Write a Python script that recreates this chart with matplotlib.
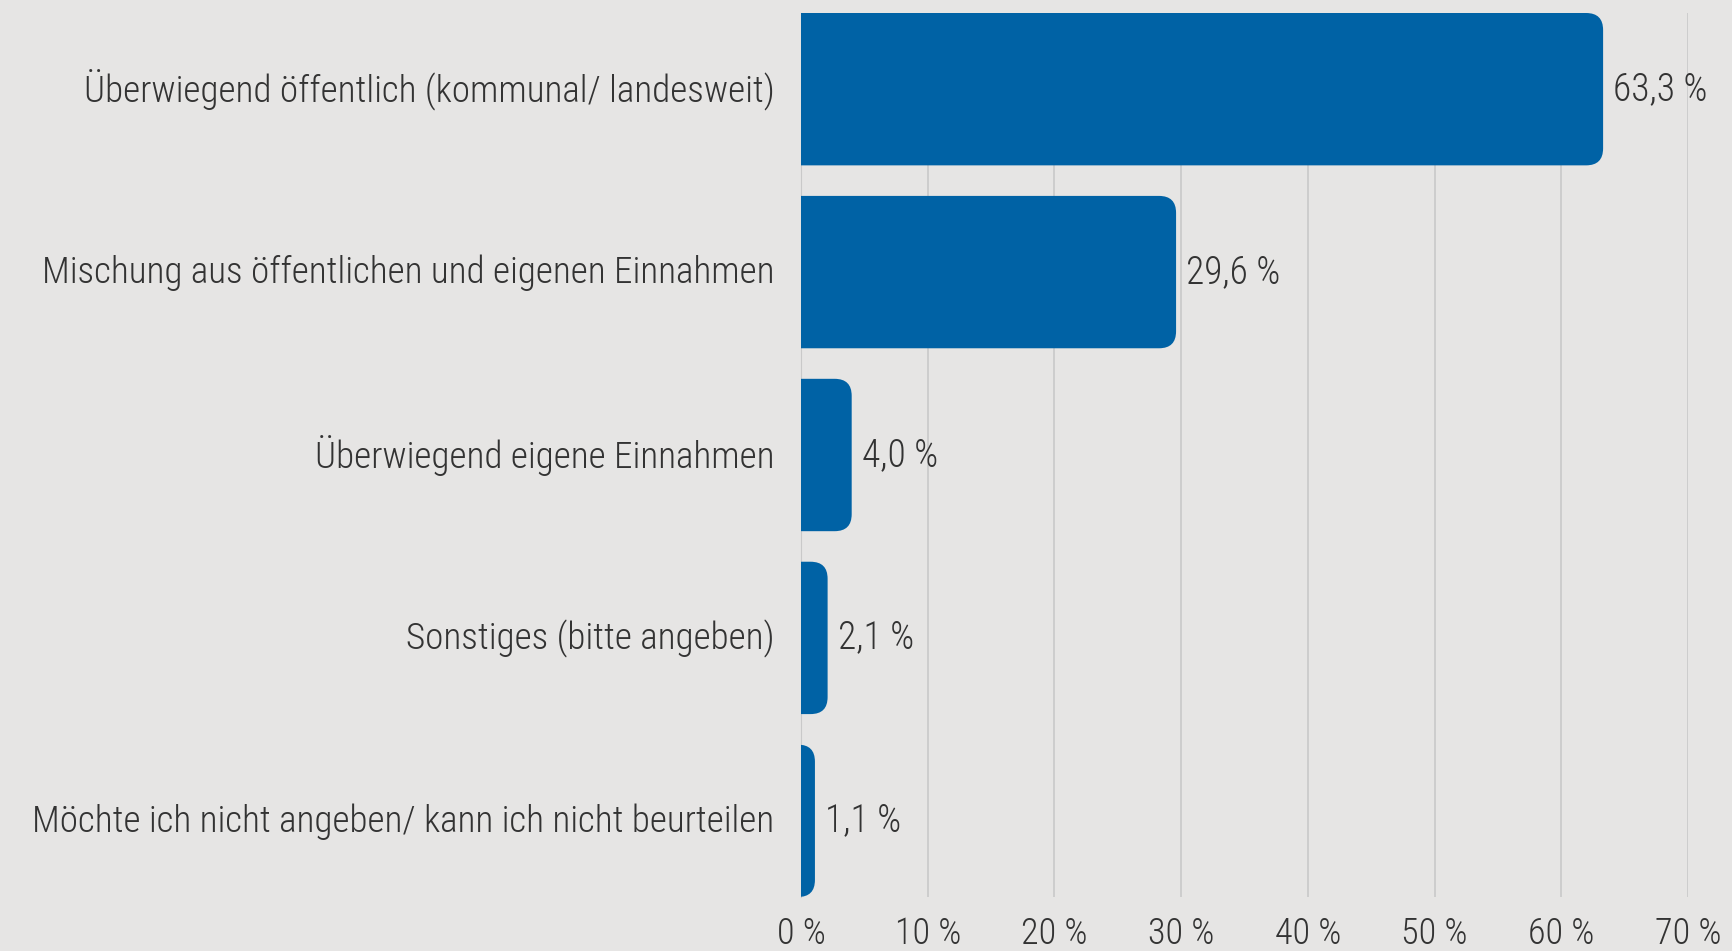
import matplotlib
matplotlib.use("Agg")
import matplotlib.pyplot as plt
from matplotlib.patches import FancyBboxPatch
from matplotlib.ticker import FuncFormatter
from matplotlib.transforms import ScaledTranslation

# data
categories = [
    "Überwiegend öffentlich (kommunal/ landesweit)",
    "Mischung aus öffentlichen und eigenen Einnahmen",
    "Überwiegend eigene Einnahmen",
    "Sonstiges (bitte angeben)",
    "Möchte ich nicht angeben/ kann ich nicht beurteilen",
]
values = [63.3, 29.6, 4.0, 2.1, 1.1]
xticks = [0, 10, 20, 30, 40, 50, 60, 70]

bg = "#e6e5e4"
blue = "#0062a5"
txt = "#333333"

plt.rcParams["font.family"] = ["Roboto Condensed", "Roboto", "DejaVu Sans"]

W, H = 1733, 951
fig = plt.figure(figsize=(W / 100, H / 100), dpi=100, facecolor=bg)
ax_l, ax_r, ax_t, ax_b = 801, 1688, 13, 897
ax = fig.add_axes([ax_l / W, 1 - ax_b / H, (ax_r - ax_l) / W, (ax_b - ax_t) / H])
ax.set_facecolor(bg)

bh = 0.833
bars = ax.barh(range(len(values)), values, height=bh, color=blue)
ax.set_xlim(0, 70)
ax.set_ylim(len(values) - 1 + bh / 2, -bh / 2)

# swap plain bars for ones with rounded right corners (left side clipped at x=0)
rad_px = 17
rx = rad_px * 70 / (ax_r - ax_l)
ry = rad_px * (len(values) - 1 + bh) / (ax_b - ax_t)
for b in bars:
    x0, y0, w, h = b.get_x(), b.get_y(), b.get_width(), b.get_height()
    b.set_visible(False)
    p = FancyBboxPatch((x0 - 4, y0), w + 4, h,
                       boxstyle="round,pad=0,rounding_size=%f" % rx,
                       mutation_aspect=ry / rx, fc=blue, ec="none", zorder=3)
    ax.add_patch(p)

for i, v in enumerate(values):
    ax.text(v + 0.8, i, ("%.1f %%" % v).replace(".", ","), va="center", ha="left",
            fontsize=27, color=txt, fontweight="light")

ax.set_xticks(xticks)
ax.xaxis.set_major_formatter(FuncFormatter(lambda x, p: "%d %%" % x))
ax.set_yticks(range(len(categories)))
ax.set_yticklabels(categories)
ax.grid(axis="x", color="#c9c9c9", linewidth=1.2, zorder=0)
ax.set_axisbelow(True)
for s in ["top", "right", "bottom"]:
    ax.spines[s].set_visible(False)
ax.spines["left"].set_color("#c9c9c9")
ax.tick_params(axis="both", length=0, labelcolor=txt)
ax.tick_params(axis="y", labelsize=26.7, pad=19)
ax.tick_params(axis="x", labelsize=26, pad=14)
for lab in ax.get_xticklabels() + ax.get_yticklabels():
    lab.set_fontweight("light")
# nudge category labels up a little
shift = ScaledTranslation(0, 3 / 100, fig.dpi_scale_trans)
for lab in ax.get_yticklabels():
    lab.set_transform(lab.get_transform() + shift)

fig.savefig("out.png", dpi=100, facecolor=bg)
